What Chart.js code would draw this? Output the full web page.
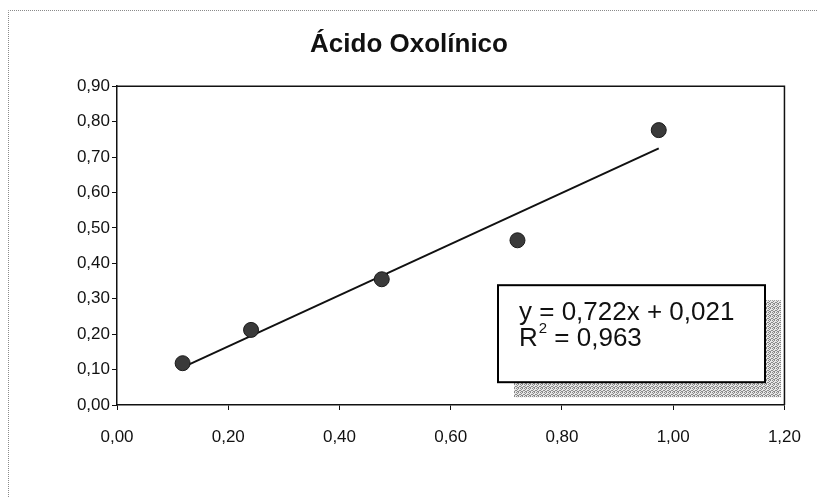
<!DOCTYPE html>
<html>
<head>
<meta charset="utf-8">
<script src="https://cdn.jsdelivr.net/npm/chart.js@4.4.1/dist/chart.umd.min.js"></script>
<style>
  html, body { margin: 0; padding: 0; background: #fff; }
  #wrap { position: relative; width: 818px; height: 497px; }
</style>
</head>
<body>
<div id="wrap"><canvas id="c" width="818" height="497"></canvas></div>
<script>
// Measured concentrations (x) and responses (y)
const xValues = [0.118, 0.241, 0.476, 0.720, 0.974];
const yValues = [0.118, 0.212, 0.355, 0.465, 0.776];

// Linear fit reported on the chart
const slope = 0.722;
const intercept = 0.021;
const rSquared = 0.963;

// Axis ticks
const xTicks = [0.00, 0.20, 0.40, 0.60, 0.80, 1.00, 1.20];
const yTicks = [0.00, 0.10, 0.20, 0.30, 0.40, 0.50, 0.60, 0.70, 0.80, 0.90];

const titleText = 'Ácido Oxolínico';

const fmt = (v, d) => v.toFixed(d).replace('.', ',');

const points = xValues.map((x, i) => ({ x: x, y: yValues[i] }));
const xMin = Math.min(...xValues), xMax = Math.max(...xValues);
const trend = [
  { x: xMin, y: slope * xMin + intercept },
  { x: xMax, y: slope * xMax + intercept }
];

const FONT = '"Liberation Sans", Arial, sans-serif';

// Frame of the whole chart, the plot box and the equation label
const decor = {
  id: 'decor',
  beforeDraw(chart) {
    const ctx = chart.ctx;
    ctx.save();
    ctx.strokeStyle = '#8a8a8a';
    ctx.lineWidth = 1;
    ctx.setLineDash([1, 1]);
    ctx.beginPath();
    ctx.moveTo(8.5, 497);
    ctx.lineTo(8.5, 10.5);
    ctx.lineTo(818, 10.5);
    ctx.stroke();
    ctx.restore();
  },
  afterDatasetsDraw(chart) {
    const ctx = chart.ctx;
    const a = chart.chartArea;
    ctx.save();
    // top and right edges of the plot box
    ctx.strokeStyle = '#111';
    ctx.lineWidth = 1.5;
    ctx.beginPath();
    ctx.moveTo(a.left, a.top);
    ctx.lineTo(a.right, a.top);
    ctx.lineTo(a.right, a.bottom);
    ctx.stroke();

    // equation label with its dithered drop shadow
    const bx = a.left + 381, by = a.top + 199, bw = 267, bh = 97;
    const pc = document.createElement('canvas');
    pc.width = 4; pc.height = 4;
    const p = pc.getContext('2d');
    p.fillStyle = '#e6e6e6'; p.fillRect(0, 0, 4, 4);
    p.fillStyle = '#8a8a8a';
    [[0,0],[2,0],[1,1],[3,2],[0,2],[2,3],[1,3]].forEach(([i, j]) => p.fillRect(i, j, 1, 1));
    ctx.fillStyle = ctx.createPattern(pc, 'repeat');
    ctx.fillRect(bx + 16, by + 15, bw, bh);

    ctx.fillStyle = '#fff';
    ctx.fillRect(bx, by, bw, bh);
    ctx.strokeStyle = '#000';
    ctx.lineWidth = 2;
    ctx.strokeRect(bx, by, bw, bh);

    ctx.fillStyle = '#111';
    ctx.textBaseline = 'middle';
    ctx.font = '26px ' + FONT;
    const tx = bx + 21;
    ctx.fillText('y = ' + fmt(slope, 3) + 'x + ' + fmt(intercept, 3), tx, by + 28);
    ctx.fillText('R', tx, by + 54);
    const rw = ctx.measureText('R').width;
    ctx.font = '15px ' + FONT;
    ctx.fillText('2', tx + rw + 1, by + 44);
    const sw = ctx.measureText('2').width;
    ctx.font = '26px ' + FONT;
    ctx.fillText(' = ' + fmt(rSquared, 3), tx + rw + sw + 1, by + 54);
    ctx.restore();
  }
};

new Chart(document.getElementById('c'), {
  type: 'scatter',
  data: {
    datasets: [
      {
        label: 'Ácido Oxolínico',
        data: points,
        order: 0,
        pointRadius: 7.5,
        pointHoverRadius: 7.5,
        pointBackgroundColor: '#3a3a3a',
        pointBorderColor: '#1a1a1a',
        pointBorderWidth: 1
      },
      {
        label: 'Lineal',
        type: 'line',
        data: trend,
        order: 1,
        borderColor: '#111',
        borderWidth: 2,
        pointRadius: 0,
        fill: false
      }
    ]
  },
  options: {
    responsive: false,
    animation: false,
    devicePixelRatio: 1,
    layout: { padding: { left: 30, right: 30, top: 0, bottom: 0 } },
    plugins: {
      legend: { display: false },
      tooltip: { enabled: false },
      title: {
        display: true,
        text: titleText,
        color: '#111',
        font: { family: FONT, size: 26, weight: 'bold' },
        padding: { top: 29, bottom: 26 }
      }
    },
    scales: {
      x: {
        type: 'linear',
        min: 0,
        max: 1.2,
        afterBuildTicks(scale) { scale.ticks = xTicks.map(v => ({ value: v })); },
        afterFit(scale) { scale.height = 92; },
        border: { display: true, color: '#111', width: 1.5 },
        grid: { drawOnChartArea: false, drawTicks: true, tickLength: 5, color: '#111', tickColor: '#111' },
        ticks: {
          padding: 17,
          color: '#111',
          font: { family: FONT, size: 17 },
          maxRotation: 0,
          callback: v => fmt(v, 2)
        }
      },
      y: {
        type: 'linear',
        min: 0,
        max: 0.9,
        afterBuildTicks(scale) { scale.ticks = yTicks.map(v => ({ value: v })); },
        afterFit(scale) { scale.width = 87; },
        border: { display: true, color: '#111', width: 1.5 },
        grid: { drawOnChartArea: false, drawTicks: true, tickLength: 5, color: '#111', tickColor: '#111' },
        ticks: {
          padding: 2,
          color: '#111',
          font: { family: FONT, size: 17 },
          callback: v => fmt(v, 2)
        }
      }
    }
  },
  plugins: [decor]
});
</script>
</body>
</html>
